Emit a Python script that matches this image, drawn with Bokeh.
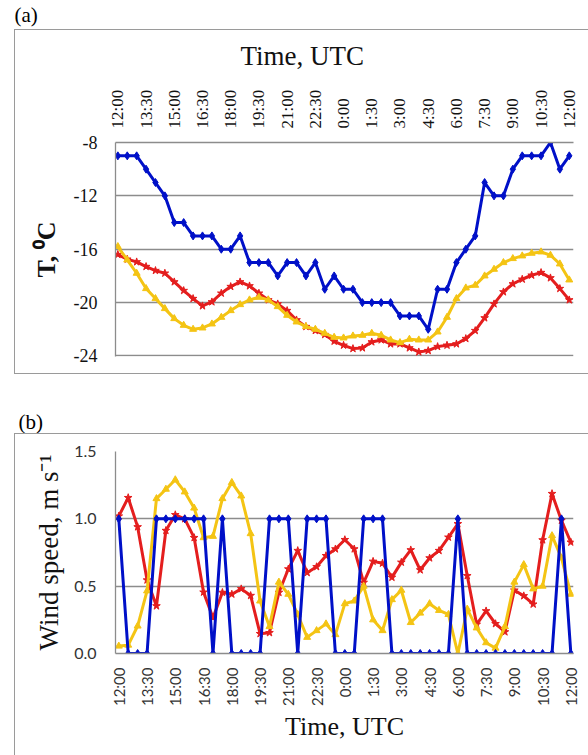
from math import pi
from bokeh.plotting import figure
from bokeh.models import FixedTicker, Range1d, Title, InlineStyleSheet
from bokeh.layouts import column
from bokeh.embed import file_html
from bokeh.resources import INLINE

# half-hourly observations, 12:00 -> 12:00 next day (49 points)
idx = list(range(49))
tick_pos = [0, 3, 6, 9, 12, 15, 18, 21, 24, 27, 30, 33, 36, 39, 42, 45, 48]
tick_labels = ["12:00", "13:30", "15:00", "16:30", "18:00", "19:30", "21:00", "22:30",
               "0:00", "1:30", "3:00", "4:30", "6:00", "7:30", "9:00", "10:30", "12:00"]

# (a) temperature, degC
t_blue = [-9, -9, -9, -10, -11, -12, -14, -14, -15, -15, -15, -16, -16, -15, -17, -17, -17,
          -18, -17, -17, -18, -17, -19, -18, -19, -19, -20, -20, -20, -20, -21, -21, -21,
          -22, -19, -19, -17, -16, -15, -11, -12, -12, -10, -9, -9, -9, -8, -10, -9]
t_red = [-16.4, -16.75, -16.95, -17.3, -17.6, -17.8, -18.45, -19.1, -19.7, -20.25, -19.95,
         -19.3, -18.8, -18.45, -18.75, -19.3, -19.8, -20.1, -20.6, -21.3, -21.8, -22.1,
         -22.4, -22.9, -23.2, -23.45, -23.4, -22.95, -22.8, -23.1, -23.1, -23.4, -23.7,
         -23.6, -23.3, -23.2, -23.1, -22.7, -22.1, -21.15, -20.1, -19.2, -18.6, -18.25,
         -17.95, -17.75, -18.15, -18.95, -19.8]
t_yellow = [-15.8, -16.8, -17.8, -18.95, -19.7, -20.45, -21.2, -21.7, -22.0, -21.9, -21.6,
            -21.1, -20.6, -20.15, -19.8, -19.6, -19.8, -20.3, -20.95, -21.45, -21.8, -22.0,
            -22.3, -22.6, -22.65, -22.5, -22.45, -22.3, -22.45, -22.8, -23.0, -22.75, -22.8,
            -22.8, -22.2, -21.1, -19.7, -18.9, -18.7, -18.0, -17.5, -17.0, -16.7, -16.5,
            -16.3, -16.2, -16.45, -17.1, -18.3]

# (b) wind speed, m/s
w_blue = [1, 0, 0, 0, 1, 1, 1, 1, 1, 1, 0, 1, 0, 0, 0, 0, 1, 1, 1, 0, 1, 1, 1, 0, 0, 0,
          1, 1, 1, 0, 0, 0, 0, 0, 0, 0, 1, 0, 0, 0, 0, 0, 0, 0, 0, 0, 0, 1, 0]
w_red = [1.02, 1.157, 0.94, 0.545, 0.353, 0.913, 1.03, 1.0, 0.86, 0.455, 0.266, 0.453,
         0.44, 0.48, 0.43, 0.147, 0.154, 0.453, 0.627, 0.764, 0.60, 0.644, 0.726, 0.776,
         0.845, 0.776, 0.527, 0.684, 0.67, 0.565, 0.677, 0.769, 0.62, 0.709, 0.764, 0.863,
         0.963, 0.577, 0.216, 0.316, 0.221, 0.16, 0.47, 0.428, 0.366, 0.843, 1.187, 0.988,
         0.826]
w_yellow = [0.055, 0.062, 0.204, 0.465, 1.15, 1.22, 1.29, 1.2, 1.08, 0.86, 0.87, 1.15,
            1.27, 1.17, 0.89, 0.39, 0.2, 0.53, 0.44, 0.29, 0.12, 0.17, 0.22, 0.14, 0.37,
            0.39, 0.5, 0.25, 0.17, 0.4, 0.47, 0.23, 0.3, 0.37, 0.32, 0.29, 0.0, 0.33, 0.19,
            0.08, 0.04, 0.2, 0.53, 0.66, 0.48, 0.5, 0.875, 0.71, 0.44]

t_ticks = [-24, -20, -16, -12, -8]
t_tick_labels = ["-24", "-20", "-16", "-12", "-8"]
w_ticks = [0, 0.5, 1.0, 1.5]
w_tick_labels = ["0.0", "0.5", "1.0", "1.5"]

BLUE = "#0010C8"
RED = "#E41E1E"
YELLOW = "#F4C414"
GRID = "#8C8C8C"
SERIF = "'Liberation Serif'"
SANS = "Lato"


def style(p, xfont, xsize, yfont, ysize, xstand, ystand, tcolor):
    p.outline_line_color = None
    p.background_fill_color = "white"
    p.border_fill_color = "white"
    p.xgrid.visible = False
    p.ygrid.grid_line_color = GRID
    p.ygrid.grid_line_width = 1.3
    for ax in (p.xaxis[0], p.yaxis[0]):
        ax.axis_line_color = GRID
        ax.axis_line_width = 1.3
        ax.major_tick_out = 0
        ax.major_tick_in = 0
        ax.minor_tick_out = 0
        ax.minor_tick_in = 0
        ax.major_label_text_color = tcolor
        ax.axis_label_text_font = SERIF
        ax.axis_label_text_font_style = "normal"
        ax.axis_label_text_color = "#111111"
    p.xaxis[0].ticker = FixedTicker(ticks=tick_pos)
    p.xaxis[0].major_label_overrides = {k: v for k, v in zip(tick_pos, tick_labels)}
    p.xaxis[0].major_label_orientation = pi / 2
    p.xaxis[0].major_label_text_font = xfont
    p.xaxis[0].major_label_text_font_size = xsize
    p.xaxis[0].major_label_standoff = xstand
    p.yaxis[0].major_label_text_font = yfont
    p.yaxis[0].major_label_text_font_size = ysize
    p.yaxis[0].major_label_standoff = ystand


def series(p, ys, color, marker, size):
    p.line(idx, ys, line_color=color, line_width=3)
    p.scatter(idx, ys, marker=marker, size=size, fill_color=color, line_color=color)


def frame_box(left, top, width, height, no_right=True, no_bottom=False):
    css = (":host{position:relative;}"
           ":host::after{content:'';position:absolute;left:%dpx;top:%dpx;width:%dpx;"
           "height:%dpx;border:1.3px solid #9A9A9A;box-sizing:border-box;"
           "pointer-events:none;%s%s}" % (left, top, width, height,
                                          "border-right:none;" if no_right else "",
                                          "border-bottom:none;" if no_bottom else ""))
    return InlineStyleSheet(css=css)


# ---------------- panel (a) ----------------
pa = figure(width=588, height=390, min_border_left=115, min_border_right=14,
            min_border_top=142, min_border_bottom=34,
            x_range=Range1d(-0.25, 48.45), y_range=Range1d(-24.04, -8),
            x_axis_location="above", output_backend="svg", toolbar_location=None,
            title=None)
style(pa, SERIF, "17px", SERIF, "18px", 14, 18, "#111111")
pa.yaxis[0].ticker = FixedTicker(ticks=t_ticks)
pa.yaxis[0].major_label_overrides = {k: v for k, v in zip(t_ticks, t_tick_labels)}
pa.yaxis[0].axis_label = "T, \u2070C"
pa.yaxis[0].axis_label_text_font_size = "26px"
pa.yaxis[0].axis_label_text_font_style = "bold"
pa.yaxis[0].axis_label_standoff = 10
series(pa, t_red, RED, "star", 8)
series(pa, t_yellow, YELLOW, "triangle", 7)
series(pa, t_blue, BLUE, "diamond", 8)
pa.add_layout(Title(text="Time, UTC", align="left", offset=125, standoff=28,
                    vertical_align="top",
                    text_font=SERIF, text_font_size="27px", text_font_style="normal",
                    text_color="#111111"), "above")
pa.add_layout(Title(text="(a)", align="left", offset=-101, standoff=0,
                    vertical_align="bottom",
                    text_font=SERIF, text_font_size="21px", text_font_style="normal",
                    text_color="black"), "above")
pa.stylesheets.append(frame_box(14, 29, 574, 345))

# ---------------- panel (b) ----------------
pb = figure(width=588, height=365, min_border_left=110, min_border_right=15,
            min_border_top=61, min_border_bottom=102,
            x_range=Range1d(-0.35, 48.28), y_range=Range1d(0, 1.5),
            output_backend="svg", toolbar_location=None, title=None)
style(pb, SANS, "15px", SANS, "16px", 14, 19, "#333333")
pb.yaxis[0].ticker = FixedTicker(ticks=w_ticks)
pb.yaxis[0].major_label_overrides = {k: v for k, v in zip(w_ticks, w_tick_labels)}
pb.yaxis[0].axis_label = "Wind speed, m s\u207b\u00b9"
pb.yaxis[0].axis_label_text_font_size = "27px"
pb.yaxis[0].axis_label_standoff = 7
pb.xaxis[0].axis_label = "Time, UTC"
pb.xaxis[0].axis_label_text_font_size = "26px"
pb.xaxis[0].axis_label_standoff = 3
series(pb, w_red, RED, "star", 8)
series(pb, w_yellow, YELLOW, "triangle", 7)
series(pb, w_blue, BLUE, "diamond", 8)
pb.add_layout(Title(text="(b)", align="left", offset=-97, standoff=35,
                    vertical_align="bottom",
                    text_font=SERIF, text_font_size="21px", text_font_style="normal",
                    text_color="black"), "above")
pb.stylesheets.append(frame_box(14, 43, 574, 322, no_bottom=True))

layout = column(pa, pb, spacing=0)
open("out.html", "w").write(file_html(layout, INLINE))
